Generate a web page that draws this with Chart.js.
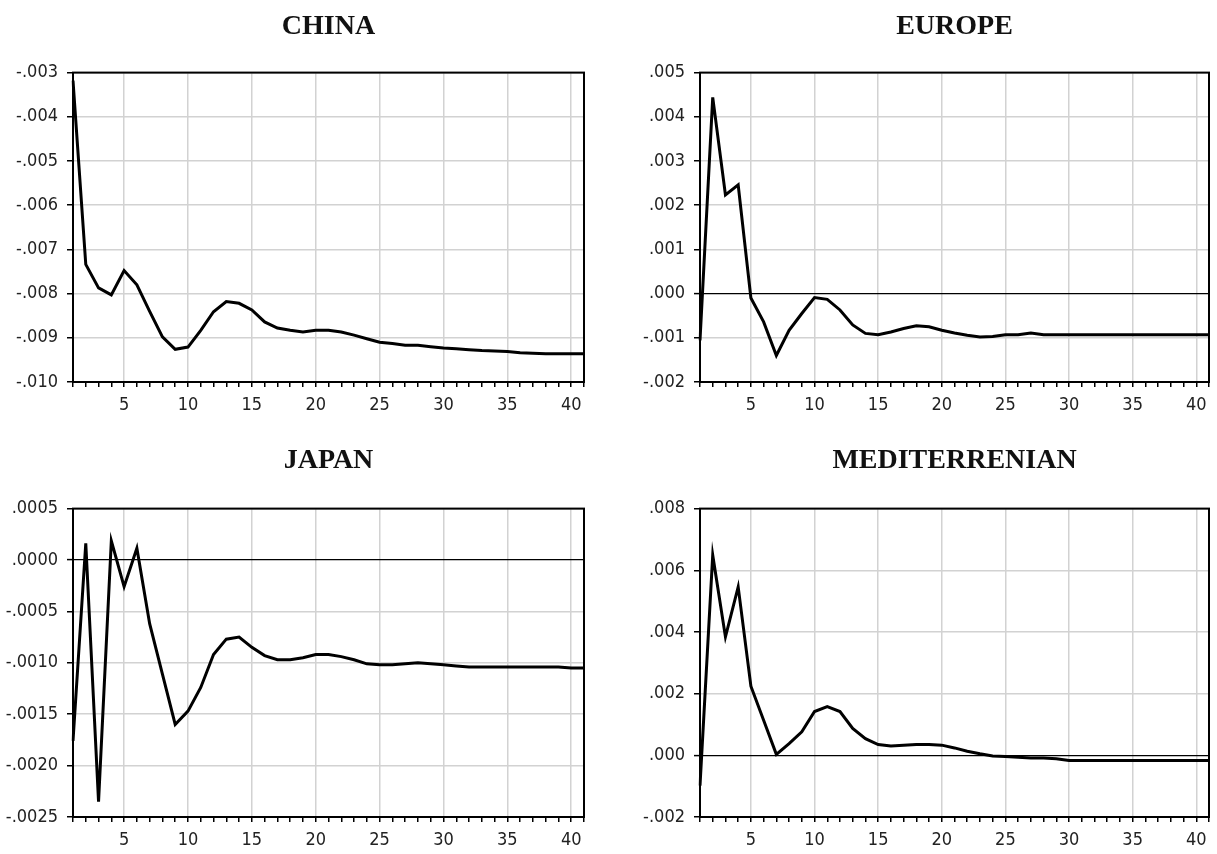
<!DOCTYPE html>
<html>
<head>
<meta charset="utf-8">
<script src="https://cdn.jsdelivr.net/npm/chart.js@4.4.1/dist/chart.umd.min.js"></script>
<style>
  body { margin: 0; background: #fff; width: 1217px; height: 854px; position: relative; overflow: hidden; }
  canvas { position: absolute; }
</style>
</head>
<body>
<canvas id="china" width="608" height="427" style="left:0;top:0"></canvas>
<canvas id="europe" width="609" height="427" style="left:608px;top:0"></canvas>
<canvas id="japan" width="608" height="427" style="left:0;top:427px"></canvas>
<canvas id="med" width="609" height="427" style="left:608px;top:427px"></canvas>
<script>
// horizon (periods)
const periods = [1, 2, 3, 4, 5, 6, 7, 8, 9, 10, 11, 12, 13, 14, 15, 16, 17, 18, 19, 20,
  21, 22, 23, 24, 25, 26, 27, 28, 29, 30, 31, 32, 33, 34, 35, 36, 37, 38, 39, 40, 41];

const chinaValues = [-0.00318, -0.00734, -0.00787, -0.00803, -0.00748, -0.0078, -0.0084, -0.00898, -0.00926, -0.00921,
  -0.00883, -0.00841, -0.00818, -0.00822, -0.00837, -0.00864, -0.00878, -0.00883, -0.00887, -0.00883,
  -0.00883, -0.00887, -0.00894, -0.00902, -0.0091, -0.00913, -0.00917, -0.00917, -0.0092, -0.00923,
  -0.00925, -0.00927, -0.00929, -0.0093, -0.00931, -0.00934, -0.00935, -0.00936, -0.00936, -0.00936, -0.00936];

const europeValues = [-0.00106, 0.00444, 0.00223, 0.00246, -0.0001, -0.00064, -0.0014, -0.00083, -0.00045, -0.00009,
  -0.00013, -0.00037, -0.00071, -0.0009, -0.00093, -0.00087, -0.00079, -0.00073, -0.00075, -0.00083,
  -0.00089, -0.00094, -0.00098, -0.00097, -0.00093, -0.00093, -0.00089, -0.00093, -0.00093, -0.00093,
  -0.00093, -0.00093, -0.00093, -0.00093, -0.00093, -0.00093, -0.00093, -0.00093, -0.00093, -0.00093, -0.00093];

const japanValues = [-0.00176, 0.000163, -0.00235, 0.000186, -0.00026, 0.000114, -0.00062, -0.00111, -0.0016, -0.00147,
  -0.00124, -0.00092, -0.00077, -0.00075, -0.00085, -0.00093, -0.00097, -0.00097, -0.00095, -0.00092,
  -0.00092, -0.00094, -0.00097, -0.00101, -0.00102, -0.00102, -0.00101, -0.001, -0.00101, -0.00102,
  -0.00103, -0.00104, -0.00104, -0.00104, -0.00104, -0.00104, -0.00104, -0.00104, -0.00104, -0.00105, -0.00105];

const medValues = [-0.00098, 0.00649, 0.00384, 0.00546, 0.00224, 0.00114, 0.00003, 0.00038, 0.00076, 0.00142,
  0.00158, 0.00142, 0.00087, 0.00054, 0.00035, 0.0003, 0.00033, 0.00035, 0.00035, 0.00033,
  0.00024, 0.00013, 0.00005, -0.00002, -0.00004, -0.00006, -0.00009, -0.00009, -0.00011, -0.00017,
  -0.00017, -0.00017, -0.00017, -0.00017, -0.00017, -0.00017, -0.00017, -0.00017, -0.00017, -0.00017, -0.00017];

// y axis ranges / tick steps
const chinaAxis = { min: -0.010, max: -0.003, step: 0.001, decimals: 3 };
const europeAxis = { min: -0.002, max: 0.005, step: 0.001, decimals: 3 };
const japanAxis = { min: -0.0025, max: 0.0005, step: 0.0005, decimals: 4 };
const medAxis = { min: -0.002, max: 0.008, step: 0.002, decimals: 3 };

const tickFont = { family: "'Liberation Sans Narrow', 'DejaVu Sans Condensed', sans-serif", size: 18 };

// box around the plot area
const framePlugin = {
  id: 'frame',
  afterDraw(chart) {
    const a = chart.chartArea, ctx = chart.ctx;
    ctx.save();
    ctx.strokeStyle = '#000';
    ctx.lineWidth = 2;
    ctx.strokeRect(a.left, a.top, a.right - a.left, a.bottom - a.top);
    ctx.restore();
  }
};

function fmt(v, d) {
  if (Math.abs(v) < 1e-12) v = 0;
  return v.toFixed(d).replace('0.', '.');
}

function makePanel(id, title, values, axis, lay) {
  new Chart(document.getElementById(id), {
    type: 'line',
    data: {
      labels: periods,
      datasets: [{
        data: values,
        borderColor: '#000',
        borderWidth: 3,
        pointRadius: 0,
        tension: 0,
        fill: false
      }]
    },
    plugins: [framePlugin],
    options: {
      responsive: false,
      animation: false,
      layout: { padding: { left: 0, right: lay.padRight, top: 0, bottom: 0 } },
      plugins: {
        legend: { display: false },
        tooltip: { enabled: false },
        title: {
          display: true,
          text: title,
          fullSize: false,
          color: '#111',
          font: { family: "'Liberation Serif', 'Times New Roman', serif", size: 28, weight: 'bold' },
          padding: { top: lay.titleTop, bottom: lay.titleBottom }
        }
      },
      scales: {
        x: {
          type: 'category',
          offset: false,
          afterFit(s) { s.height = lay.xHeight; },
          border: { display: false },
          grid: {
            color: (c) => (periods[c.index] % 5 === 0 ? '#d2d2d2' : 'rgba(0,0,0,0)'),
            lineWidth: 1.5,
            tickColor: '#000',
            tickLength: 5,
            tickWidth: 1.5
          },
          ticks: {
            autoSkip: false,
            maxRotation: 0,
            padding: 8,
            color: '#222',
            font: tickFont,
            callback(val) {
              const p = periods[val];
              return p % 5 === 0 ? String(p) : '';
            }
          }
        },
        y: {
          min: axis.min,
          max: axis.max,
          afterFit(s) { s.width = lay.yWidth; },
          border: { display: false },
          grid: {
            color: (c) => (Math.abs(c.tick.value) < 1e-12 ? '#000' : '#d2d2d2'),
            lineWidth: (c) => (Math.abs(c.tick.value) < 1e-12 ? 1.2 : 1.5),
            tickColor: '#000',
            tickLength: 6,
            tickWidth: 1.5
          },
          ticks: {
            stepSize: axis.step,
            padding: 9,
            color: '#222',
            font: tickFont,
            callback: (v) => fmt(v, axis.decimals)
          }
        }
      }
    }
  });
}

makePanel('china', 'CHINA', chinaValues, chinaAxis,
  { yWidth: 73, padRight: 24, titleTop: 10, titleBottom: 29, xHeight: 45 });
makePanel('europe', 'EUROPE', europeValues, europeAxis,
  { yWidth: 92, padRight: 4, titleTop: 10, titleBottom: 29, xHeight: 45 });
makePanel('japan', 'JAPAN', japanValues, japanAxis,
  { yWidth: 73, padRight: 24, titleTop: 17, titleBottom: 31, xHeight: 37 });
makePanel('med', 'MEDITERRENIAN', medValues, medAxis,
  { yWidth: 92, padRight: 4, titleTop: 17, titleBottom: 31, xHeight: 37 });
</script>
</body>
</html>
